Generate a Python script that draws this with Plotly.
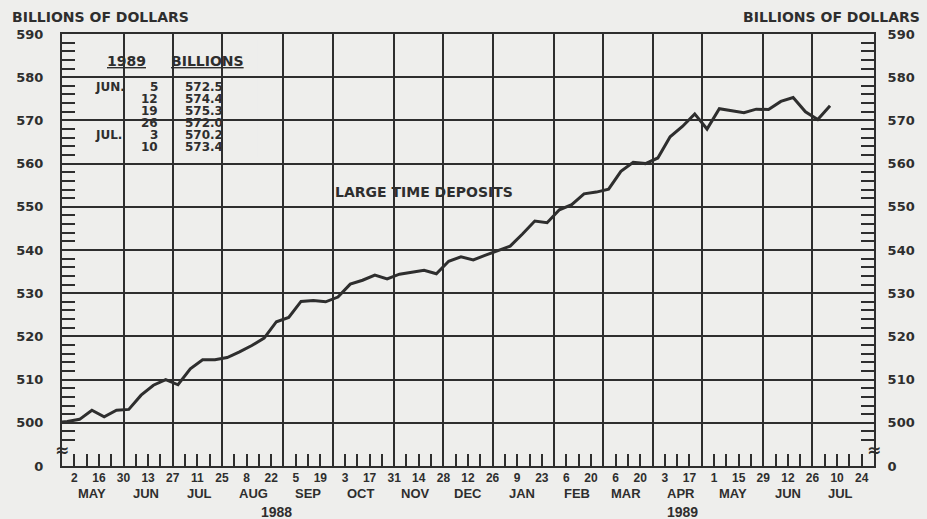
import pandas as pd
import plotly.graph_objects as go

# ---------------- data ----------------
week_ending = pd.date_range("1988-04-25", "1989-07-10", freq="7D")
large_time_deposits = [
    500.0,                                   # Apr 25 1988
    500.3, 500.8, 502.9, 501.4, 502.9,       # May
    503.1, 506.4, 508.7, 510.0,              # Jun
    508.8, 512.5, 514.6, 514.6,              # Jul
    515.1, 516.4, 517.9, 519.6, 523.4,       # Aug
    524.4, 528.1, 528.3, 528.0,              # Sep
    529.1, 532.1, 533.0, 534.2, 533.3,       # Oct
    534.4, 534.9, 535.3, 534.5,              # Nov
    537.4, 538.4, 537.7, 538.8,              # Dec
    539.8, 540.9, 543.7, 546.7, 546.3,       # Jan 1989
    549.3, 550.5, 553.0, 553.4,              # Feb
    554.1, 558.2, 560.3, 560.0,              # Mar
    561.3, 566.2, 568.6, 571.5,              # Apr
    568.0, 572.7, 572.3, 571.8, 572.6,       # May
    572.5, 574.4, 575.3, 572.0,              # Jun
    570.2, 573.4,                            # Jul
]

tick_weeks = pd.date_range("1988-05-02", "1989-07-24", freq="7D")
day_labels = [str(d.day) if i % 2 == 0 else "" for i, d in enumerate(tick_weeks)]
month_names = ["MAY", "JUN", "JUL", "AUG", "SEP", "OCT", "NOV", "DEC",
               "JAN", "FEB", "MAR", "APR", "MAY", "JUN", "JUL"]
month_starts = pd.date_range("1988-05-01", "1989-07-01", freq="MS")
year_labels = ["1988", "1989"]
year_label_dates = ["1988-08-25", "1989-04-13"]

y_major = [490] + list(range(500, 591, 10))
y_major_text = ["0"] + [str(v) for v in range(500, 591, 10)]
y_minor = [v for v in range(496, 590, 2) if v % 10 != 0]

table_months = ["JUN.", "", "", "", "JUL.", ""]
table_days = ["5", "12", "19", "26", "3", "10"]
table_values = large_time_deposits[-6:]

# ---------------- styling ----------------
BG = "#eeeeec"
INK = "#2e2e2e"
DJ = "DejaVu Sans"
LIB = "Liberation Sans"

# data plotted at mid-week of each week ending Monday
plot_x = week_ending - pd.Timedelta(days=4)

# gridlines: last Monday of each month
grid_dates = [d for i, d in enumerate(tick_weeks[:-1]) if tick_weeks[i + 1].month != d.month]

L, R, T, B = 62, 877, 34, 466
W, H = 927, 519


def px_x(p):
    return (p - L) / (R - L)


def px_y(p):
    return (B - p) / (B - T)


fig = go.Figure()
fig.add_trace(go.Scatter(
    x=plot_x, y=large_time_deposits, mode="lines",
    line=dict(color=INK, width=3), showlegend=False, hoverinfo="skip",
))
fig.add_trace(go.Scatter(
    x=plot_x, y=large_time_deposits, mode="lines", yaxis="y2",
    line=dict(color="rgba(0,0,0,0)", width=0), showlegend=False, hoverinfo="skip",
))

x_range = [tick_weeks[0] - pd.Timedelta(days=7), tick_weeks[-1] + pd.Timedelta(days=7)]

yaxis_common = dict(
    range=[490, 590], tickmode="array", tickvals=y_major, ticktext=y_major_text,
    ticks="", showline=True, linecolor=INK, linewidth=2,
    tickfont=dict(family=DJ, size=13, color=INK, weight="bold"),
    minor=dict(tickmode="array", tickvals=y_minor, ticks="inside", ticklen=13,
               tickwidth=2, tickcolor=INK, showgrid=False),
    fixedrange=True,
)

fig.update_layout(
    width=W, height=H,
    margin=dict(l=L, r=W - R, t=T, b=H - B),
    paper_bgcolor=BG, plot_bgcolor=BG,
    xaxis=dict(
        type="date", range=x_range, tickmode="array",
        tickvals=tick_weeks, ticktext=day_labels,
        ticks="inside", ticklen=12, tickwidth=2, tickcolor=INK,
        showgrid=False, showline=True, mirror=True, linecolor=INK, linewidth=2,
        tickfont=dict(family=LIB, size=12, color=INK, weight="bold"),
        minor=dict(tickmode="array", tickvals=grid_dates, ticks="",
                   showgrid=True, gridcolor=INK, gridwidth=2),
        fixedrange=True,
    ),
    yaxis=dict(**yaxis_common, side="left", showgrid=True, gridcolor=INK, gridwidth=2,
               ticklabelstandoff=14),
    yaxis2=dict(**yaxis_common, side="right", overlaying="y", showgrid=False,
                ticklabelstandoff=9),
    showlegend=False,
)

# boxes that interrupt the grid (inset table, series label)
fig.add_shape(type="rect", xref="paper", yref="paper",
              x0=px_x(86), x1=px_x(258), y0=px_y(157), y1=px_y(40),
              fillcolor=BG, line=dict(width=0), layer="between")
fig.add_shape(type="rect", xref="paper", yref="paper",
              x0=px_x(336), x1=px_x(517), y0=px_y(200), y1=px_y(173),
              fillcolor=BG, line=dict(width=0), layer="between")

ann = []
# axis titles
ann.append(dict(text="BILLIONS OF DOLLARS", xref="paper", yref="paper",
                x=px_x(10), y=px_y(17), xanchor="left", yanchor="middle",
                showarrow=False, font=dict(family=DJ, size=14, color=INK, weight="bold")))
ann.append(dict(text="BILLIONS OF DOLLARS", xref="paper", yref="paper",
                x=px_x(925), y=px_y(17), xanchor="right", yanchor="middle",
                showarrow=False, font=dict(family=DJ, size=14, color=INK, weight="bold")))
# series label
ann.append(dict(text="LARGE TIME DEPOSITS", xref="paper", yref="paper",
                x=px_x(425.5), y=px_y(192), xanchor="center", yanchor="middle",
                showarrow=False, font=dict(family=DJ, size=14, color=INK, weight="bold")))
# axis breaks
for xp in (0, 1):
    ann.append(dict(text="≈", xref="paper", yref="y", x=xp, y=493.6,
                    xanchor="center", yanchor="middle", showarrow=False,
                    font=dict(family=DJ, size=17, color=INK, weight="bold")))
# month and year labels
for name, ms in zip(month_names, month_starts):
    ann.append(dict(text=name, xref="x", yref="paper",
                    x=ms + pd.Timedelta(days=11), y=px_y(493),
                    xanchor="center", yanchor="middle", showarrow=False,
                    font=dict(family=LIB, size=13, color=INK, weight="bold")))
for name, d in zip(year_labels, year_label_dates):
    ann.append(dict(text=name, xref="x", yref="paper", x=d, y=px_y(512),
                    xanchor="center", yanchor="middle", showarrow=False,
                    font=dict(family=LIB, size=14, color=INK, weight="bold")))
# inset table
tfont = dict(family=DJ, size=12, color=INK, weight="bold")
ufont = dict(family=DJ, size=14, color=INK, weight="bold", lineposition="under")
ann.append(dict(text="1989", xref="paper", yref="paper", x=px_x(127), y=px_y(61),
                xanchor="center", yanchor="middle", showarrow=False, font=ufont))
ann.append(dict(text="BILLIONS", xref="paper", yref="paper", x=px_x(208.5), y=px_y(61),
                xanchor="center", yanchor="middle", showarrow=False, font=ufont))
for i, (m, dd, v) in enumerate(zip(table_months, table_days, table_values)):
    yy = px_y(87.3 + i * 11.9)
    if m:
        ann.append(dict(text=m, xref="paper", yref="paper", x=px_x(93), y=yy,
                        xanchor="left", yanchor="middle", showarrow=False, font=tfont))
    ann.append(dict(text=dd, xref="paper", yref="paper", x=px_x(160), y=yy,
                    xanchor="right", yanchor="middle", showarrow=False, font=tfont))
    ann.append(dict(text=f"{v:.1f}", xref="paper", yref="paper", x=px_x(226), y=yy,
                    xanchor="right", yanchor="middle", showarrow=False, font=tfont))

fig.update_layout(annotations=ann)
fig.write_html(
    "out.html",
    config={"displayModeBar": False, "staticPlot": True},
    post_script=(
        "document.documentElement.style.margin='0';"
        "document.body.style.margin='0';"
        "document.body.style.overflow='hidden';"
        f"document.body.style.background='{BG}';"
    ),
)
